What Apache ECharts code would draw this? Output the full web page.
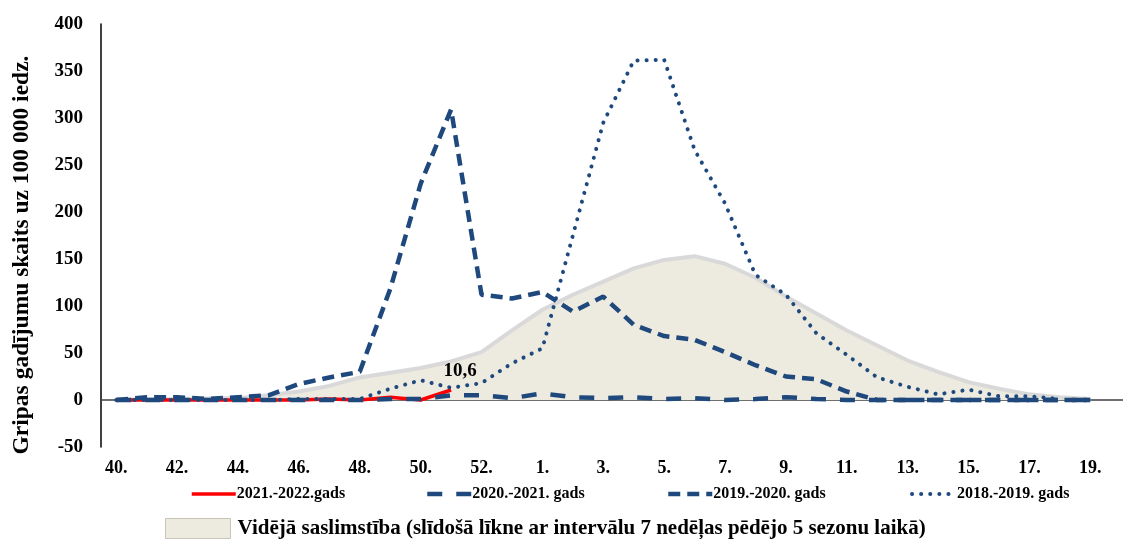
<!DOCTYPE html>
<html>
<head>
<meta charset="utf-8">
<script src="https://cdn.jsdelivr.net/npm/echarts@6/dist/echarts.min.js"></script>
<style>html,body{margin:0;padding:0;background:#fff;overflow:hidden}#c{width:1136px;height:539px}</style>
</head>
<body>
<div id="c"></div>
<script>
const weeks = ['40.','41.','42.','43.','44.','45.','46.','47.','48.','49.','50.','51.','52.','53.',
  '1.','2.','3.','4.','5.','6.','7.','8.','9.','10.','11.','12.','13.','14.','15.','16.','17.','18.','19.','20.'];
const yTicks = [-50, 0, 50, 100, 150, 200, 250, 300, 350, 400];
const s2122 = [0, 0, 0, 0, 0, 0, 0, 1, 0, 3, 0, 10.6];
const s2021 = [0, 0, 0, 0, 0, 0, 0, 0, 0, 1, 1, 5, 5, 2, 7, 3, 2, 3, 1, 2, 0, 1, 3, 1, 0, 0, 0, 0, 0, 0, 0, 0, 0];
const s1920 = [0, 3, 3, 1, 3, 5, 17, 24, 30, 118, 230, 309, 112, 108, 115, 94, 110, 80, 68, 64, 51, 37, 25, 22, 9, 0, 0, 0, 0, 0, 0, 0, 0];
const s1819 = [0, 0, 0, 0, 0, 0, 1, 1, 1, 12, 21, 13, 18, 39, 55, 175, 295, 361, 362, 266, 209, 133, 112, 71, 48, 24, 14, 6, 11, 4, 4, 1];
const avg = [0.5, 0.7, 1, 1.5, 2, 5, 9, 15, 24, 29, 34, 41, 51, 74, 96, 112, 126, 140, 149, 153, 145, 130, 110, 92, 74, 58, 42, 30, 19, 12, 6, 3, 1];

const N1 = '2021.-2022.gads', N2 = '2020.-2021. gads', N3 = '2019.-2020. gads', N4 = '2018.-2019. gads';
const NA = 'Vidējā saslimstība (slīdošā līkne ar intervālu 7 nedēļas pēdējo 5 sezonu laikā)';
const FONT = '"Liberation Serif", "Times New Roman", serif';
const NAVY = '#1f497d';

const st2122 = { color: '#ff0000', width: 3.5, type: 'solid' };
const st2021 = { color: NAVY, width: 4.5, type: [15, 14] };
const st1920 = { color: NAVY, width: 4.5, type: [12, 7] };
const st1819 = { color: NAVY, width: 4, type: [0.1, 9], cap: 'round' };

const lastIdx = s2122.length - 1;

function lg(name, left, top, lineStyle) {
  return {
    data: [name], left: left, top: top, itemWidth: 44, itemHeight: 12, itemGap: 0,
    selectedMode: false, padding: 0,
    textStyle: { fontFamily: FONT, fontWeight: 'bold', fontSize: 16, color: '#000', padding: [0, 0, 0, -4] },
    lineStyle: lineStyle, itemStyle: { opacity: 0 }
  };
}

const chart = echarts.init(document.getElementById('c'), null, { renderer: 'canvas' });
chart.setOption({
  animation: false,
  backgroundColor: '#fff',
  grid: { left: 101, top: 24, bottom: 92, right: 0 },
  graphic: [{
    type: 'text', x: 22, y: 255, rotation: Math.PI / 2,
    style: { text: 'Gripas gadījumu skaits uz 100 000 iedz.', font: 'bold 23.5px ' + FONT,
      fill: '#000', textAlign: 'center', textVerticalAlign: 'middle' }
  }],
  legend: [
    lg(N1, 190, 486, st2122),
    lg(N2, 425, 486, st2021),
    lg(N3, 666, 486, st1920),
    lg(N4, 910, 486, st1819),
    { data: [{ name: NA, icon: 'rect', itemStyle: { color: '#edeae0', borderColor: '#c9c5b6', borderWidth: 1, opacity: 1 } }],
      left: 165, top: 518, itemWidth: 65, itemHeight: 20, selectedMode: false, padding: 0,
      textStyle: { fontFamily: FONT, fontWeight: 'bold', fontSize: 21, color: '#000', padding: [0, 0, 0, 2] } }
  ],
  xAxis: {
    type: 'category', data: weeks, boundaryGap: true,
    axisLine: { onZero: true, lineStyle: { color: '#404040', width: 1.5 } },
    axisTick: { show: false },
    axisLabel: { interval: 1, margin: 12, fontFamily: FONT, fontWeight: 'bold', fontSize: 18, color: '#000' },
    splitLine: { show: false }
  },
  yAxis: {
    type: 'value', min: yTicks[0], max: yTicks[yTicks.length - 1], interval: 50,
    axisLine: { show: true, lineStyle: { color: '#000', width: 1.5 } },
    axisTick: { show: false },
    axisLabel: { margin: 18, fontFamily: FONT, fontWeight: 'bold', fontSize: 19, color: '#000' },
    splitLine: { show: false }
  },
  series: [
    { name: NA, type: 'line', data: avg, symbol: 'none', z: 1,
      lineStyle: { color: '#d9d9d9', width: 4 }, itemStyle: { color: '#edeae0' },
      areaStyle: { color: '#edeae0', opacity: 1 } },
    { name: N1, type: 'line', data: s2122, symbol: 'circle', symbolSize: 2, showSymbol: true, showAllSymbol: true,
      z: 2, lineStyle: st2122, itemStyle: { color: 'rgba(255,0,0,0)' },
      label: { show: true, position: 'top', distance: 8, offset: [9, 0],
        formatter: p => p.dataIndex === lastIdx ? String(p.value).replace('.', ',') : '',
        fontFamily: FONT, fontWeight: 'bold', fontSize: 19, color: '#000' } },
    { name: N4, type: 'line', data: s1819, symbol: 'none', z: 3, lineStyle: st1819, itemStyle: { color: NAVY } },
    { name: N3, type: 'line', data: s1920, symbol: 'none', z: 3, lineStyle: st1920, itemStyle: { color: NAVY } },
    { name: N2, type: 'line', data: s2021, symbol: 'none', z: 3, lineStyle: st2021, itemStyle: { color: NAVY } }
  ]
});
</script>
</body>
</html>
